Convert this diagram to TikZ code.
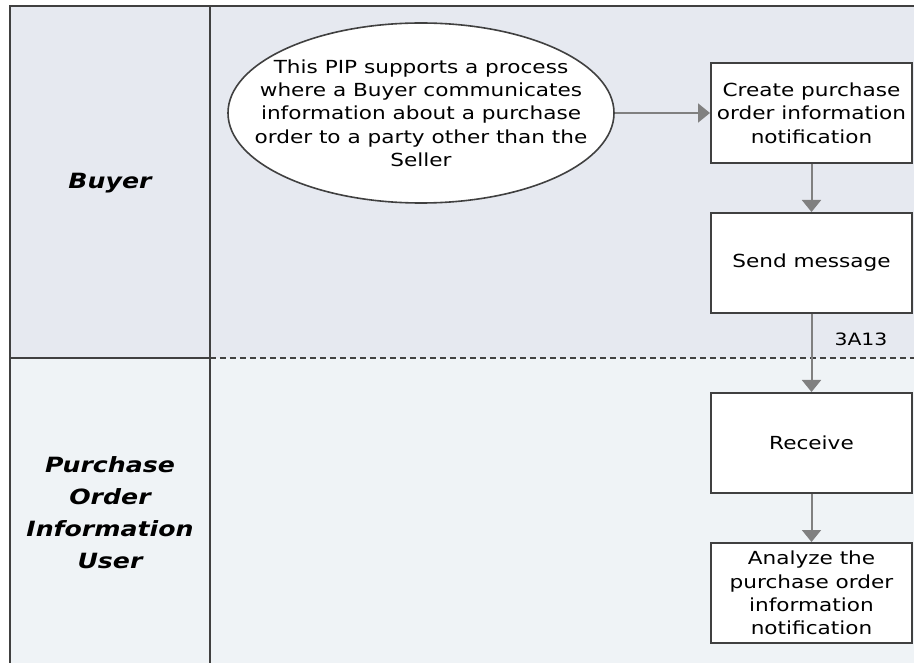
\documentclass[tikz,border=0pt]{standalone}
\usepackage{fontspec}
\setmainfont{DejaVu Sans}[FakeStretch=1.2]
\usetikzlibrary{arrows.meta,shapes.geometric}
\definecolor{laneA}{RGB}{230,233,240}
\definecolor{laneB}{RGB}{239,243,246}
\definecolor{frameC}{RGB}{64,64,64}
\definecolor{arrC}{RGB}{128,128,128}
\tikzset{
  frameline/.style={draw=frameC, line width=2pt},
  stepbox/.style={draw=frameC, line width=2pt, fill=white, minimum width=201pt, minimum height=100pt, inner sep=0pt, align=center, font=\fontsize{18}{23.3}\selectfont},
  startell/.style={ellipse, draw=frameC, line width=1.6pt, fill=white, minimum width=386pt, minimum height=180pt, inner sep=0pt},
  plaintext/.style={align=center, inner sep=0pt, font=\fontsize{18}{23.3}\selectfont},
  lanelabel/.style={align=center, font=\fontsize{21}{32}\selectfont\bfseries\itshape},
  flow/.style={draw=arrC, line width=2pt, -{Triangle[length=12pt, width=19pt]}},
}
\begin{document}
\begin{tikzpicture}[x=1pt,y=-1pt]
\useasboundingbox (0,0) rectangle (914,663);
\fill[white] (0,0) rectangle (914,663);
\fill[laneA] (10,6) rectangle (914,358);
\fill[laneB] (10,358) rectangle (914,663);
\draw[frameline] (914,6) -- (10,6) -- (10,663);
\draw[frameline] (210,6) -- (210,663);
\draw[frameline] (10,358) -- (210,358);
\draw[draw=frameC, line width=1.5pt, dash pattern=on 6pt off 4pt] (210,358) -- (914,358);

\node[lanelabel] (buyer) at (110,183) {Buyer};
\node[lanelabel] (user) at (110,513) {Purchase\\Order\\Information\\User};

\node[startell] (start) at (421,113) {};
\node[plaintext] (starttext) at (start.center) {This PIP supports a process\\where a Buyer communicates\\information about a purchase\\order to a party other than the\\Seller};
\node[stepbox] (create) at (811.5,113) {Create purchase\\order information\\notification};
\node[stepbox] (send) at (811.5,263) {Send message};
\node[stepbox] (receive) at (811.5,443) {Receive};
\node[stepbox] (analyze) at (811.5,593) {Analyze the\\purchase order\\information\\notification};
\node[font=\fontsize{17}{20}\selectfont] (pip) at (861,339) {3A13};

\draw[flow] (start.east) -- (create.west);
\draw[flow] (create.south) -- (send.north);
\draw[flow] (send.south) -- (receive.north);
\draw[flow] (receive.south) -- (analyze.north);
\end{tikzpicture}
\end{document}
